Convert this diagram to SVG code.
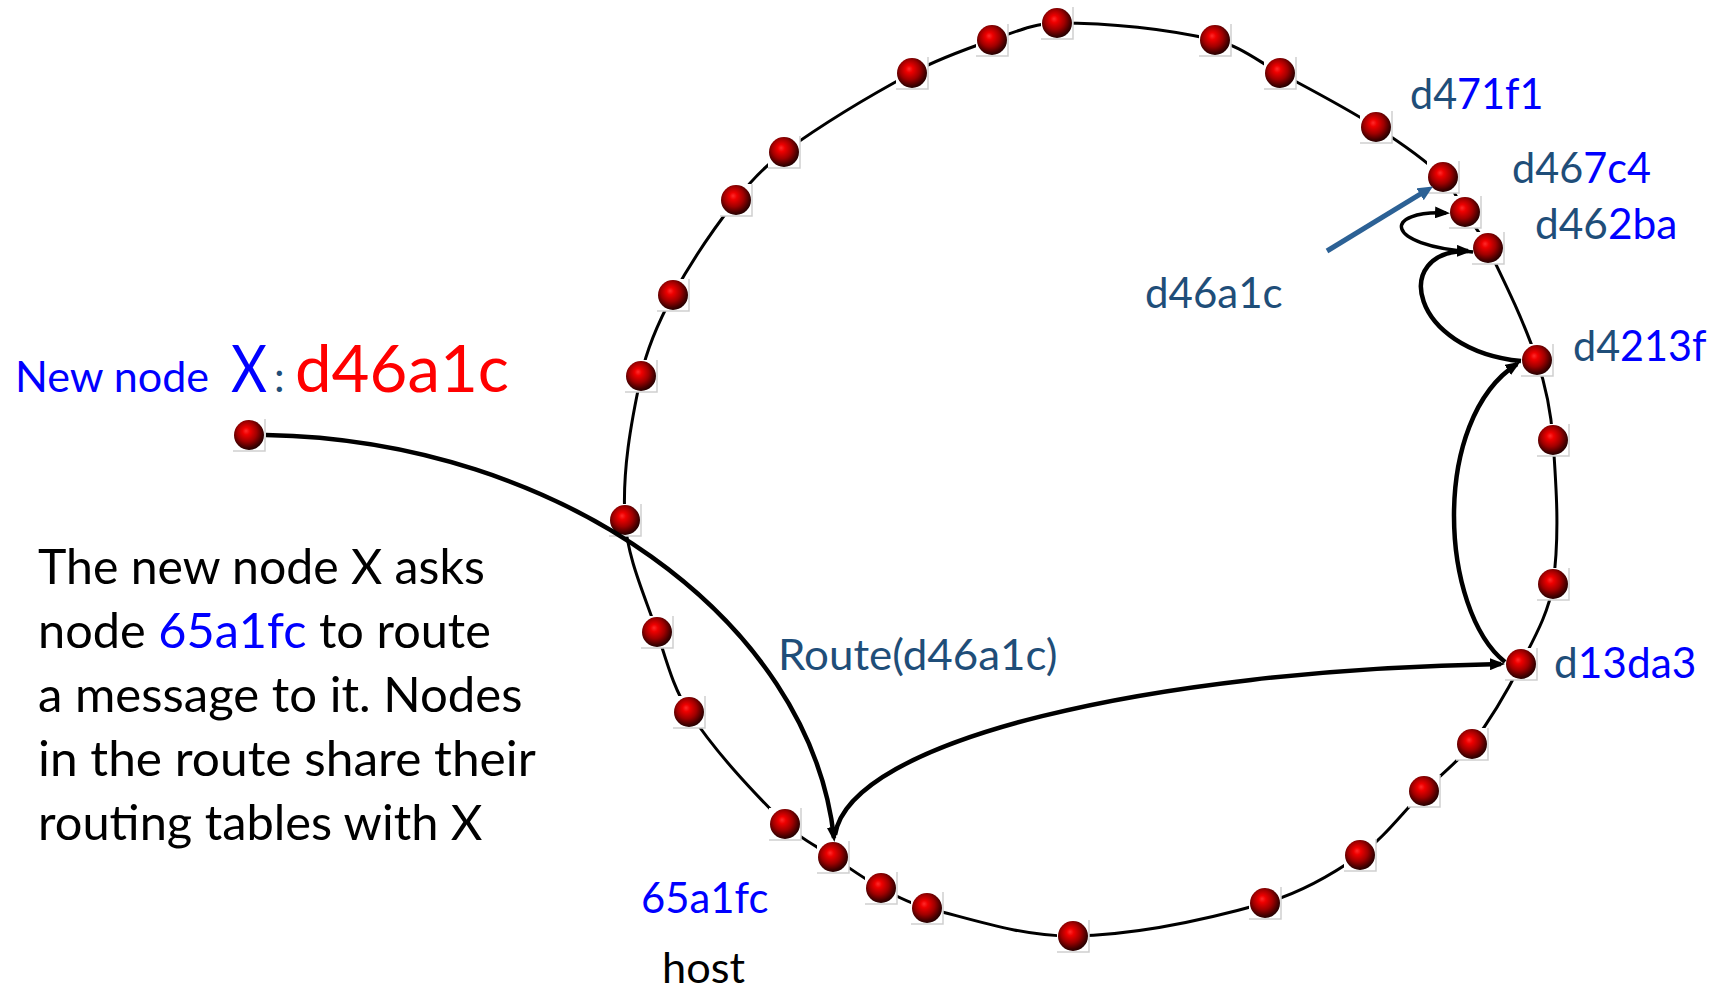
<svg xmlns="http://www.w3.org/2000/svg" xmlns:xlink="http://www.w3.org/1999/xlink" width="1723" height="990" viewBox="0 0 1723 990">
  <style>
    .ring { fill: none; stroke: #000; stroke-width: 3; }
    .hop { fill: none; stroke: #000; stroke-width: 4.5; marker-end: url(#arrow); }
    .hop-thin { fill: none; stroke: #000; stroke-width: 3.5; marker-end: url(#arrow); }
    .pointer { fill: none; stroke: #2c6195; stroke-width: 5; marker-end: url(#arrow-blue); }
    text { font-family: Lato, "Open Sans", "Liberation Sans", sans-serif; }
    .lbl { font-size: 42.5px; }
    .body { font-size: 48px; fill: #000; }
    .dk { fill: #1f4e79; }
    .bl { fill: #0000ff; }
    .red { fill: #ff0000; }
  </style>
  <defs>
    <radialGradient id="sphere" cx="0.45" cy="0.42" r="0.6" fx="0.4" fy="0.36">
      <stop offset="0" stop-color="#ff2a2a"/>
      <stop offset="0.2" stop-color="#ee0000"/>
      <stop offset="0.55" stop-color="#a00000"/>
      <stop offset="0.85" stop-color="#420000"/>
      <stop offset="1" stop-color="#1e0000"/>
    </radialGradient>
    <!-- one ball sprite: white tile with a soft grey edge, red sphere on top -->
    <g id="ball">
      <rect x="-16" y="-16" width="32" height="32" fill="#fff"/>
      <path d="M-16,16 H16 V-16" fill="none" stroke="#cfcfcf" stroke-width="1.5"/>
      <circle r="15" fill="url(#sphere)"/>
    </g>
    <marker id="arrow" markerUnits="userSpaceOnUse" viewBox="0 0 15 12" refX="11" refY="6" markerWidth="15" markerHeight="12" orient="auto">
      <path d="M0,0 L15,6 L0,12 z" fill="#000"/>
    </marker>
    <marker id="arrow-blue" markerUnits="userSpaceOnUse" viewBox="0 0 15 14" refX="4" refY="7" markerWidth="15" markerHeight="14" orient="auto">
      <path d="M0,0 L15,7 L0,14 z" fill="#2c6195"/>
    </marker>
  </defs>

  <!-- the identifier ring -->
  <g id="ring">
    <path class="ring" d="M1057,23 C1110,23 1163.3,28.4 1215,40 C1238.7,45.3 1258.6,61.5 1280,73 C1312.3,90.4 1345.1,107.3 1376,127 C1399.5,142 1422.8,157.7 1443,177 C1453,186.5 1457.6,200.4 1465,212 C1472.6,224 1481.8,235.2 1488,248 C1505.8,284.6 1523.9,321.5 1537,360 C1545.7,385.8 1551.1,412.9 1553,440 C1556.4,487.9 1559.8,536.5 1553,584 C1549,612.4 1534,638.4 1521,664 C1506.9,691.9 1491,719.1 1472,744 C1458.4,761.8 1439.9,775.2 1424,791 C1402.6,812.3 1384.7,837.6 1360,855 C1331,875.4 1299.2,893.3 1265,903 C1202.6,920.7 1137.9,935 1073,936 C1023.4,936.7 975.1,920.1 927,908 C910.8,903.9 895.7,896 881,888 C864.3,878.9 848.8,867.5 833,857 C816.9,846.2 798.7,837.8 785,824 C750.3,789.1 716.3,752.9 689,712 C673.1,688.1 666.1,659.2 657,632 C644.7,595.2 627.4,558.7 625,520 C622,471.8 630.9,423.2 641,376 C647.1,347.6 659.2,320.5 673,295 C691.1,261.6 712.7,230 736,200 C749.9,182.1 765.7,165.2 784,152 C824.6,122.7 867.9,96.7 912,73 C937.4,59.3 964.8,49.4 992,40 C1013.2,32.7 1034.6,23 1057,23 Z"/>
  </g>

  <!-- ring members -->
  <g id="nodes">
    <g id="n-00"><use xlink:href="#ball" x="1057" y="23"/></g>
    <g id="n-01"><use xlink:href="#ball" x="1215" y="40"/></g>
    <g id="n-02"><use xlink:href="#ball" x="1280" y="73"/></g>
    <g id="n-d471f1"><use xlink:href="#ball" x="1376" y="127"/></g>
    <g id="n-04"><use xlink:href="#ball" x="1443" y="177"/></g>
    <g id="n-d467c4"><use xlink:href="#ball" x="1465" y="212"/></g>
    <g id="n-d462ba"><use xlink:href="#ball" x="1488" y="248"/></g>
    <g id="n-d4213f"><use xlink:href="#ball" x="1537" y="360"/></g>
    <g id="n-08"><use xlink:href="#ball" x="1553" y="440"/></g>
    <g id="n-09"><use xlink:href="#ball" x="1553" y="584"/></g>
    <g id="n-d13da3"><use xlink:href="#ball" x="1521" y="664"/></g>
    <g id="n-11"><use xlink:href="#ball" x="1472" y="744"/></g>
    <g id="n-12"><use xlink:href="#ball" x="1424" y="791"/></g>
    <g id="n-13"><use xlink:href="#ball" x="1360" y="855"/></g>
    <g id="n-14"><use xlink:href="#ball" x="1265" y="903"/></g>
    <g id="n-15"><use xlink:href="#ball" x="1073" y="936"/></g>
    <g id="n-16"><use xlink:href="#ball" x="927" y="908"/></g>
    <g id="n-17"><use xlink:href="#ball" x="881" y="888"/></g>
    <g id="n-65a1fc"><use xlink:href="#ball" x="833" y="857"/></g>
    <g id="n-19"><use xlink:href="#ball" x="785" y="824"/></g>
    <g id="n-20"><use xlink:href="#ball" x="689" y="712"/></g>
    <g id="n-21"><use xlink:href="#ball" x="657" y="632"/></g>
    <g id="n-22"><use xlink:href="#ball" x="625" y="520"/></g>
    <g id="n-23"><use xlink:href="#ball" x="641" y="376"/></g>
    <g id="n-24"><use xlink:href="#ball" x="673" y="295"/></g>
    <g id="n-25"><use xlink:href="#ball" x="736" y="200"/></g>
    <g id="n-26"><use xlink:href="#ball" x="784" y="152"/></g>
    <g id="n-27"><use xlink:href="#ball" x="912" y="73"/></g>
    <g id="n-28"><use xlink:href="#ball" x="992" y="40"/></g>
    <g id="n-x"><use xlink:href="#ball" x="249" y="435"/></g>
  </g>

  <!-- routing hops -->
  <g id="connectors">
    <path id="c-x-host" class="hop" d="M266,435 C560,440 810,620 834,838"/>
    <path id="c-host-d13da3" class="hop" d="M835,835 C850,740 1150,670 1501,664"/>
    <path id="c-d13da3-d4213f" class="hop" d="M1505,662 C1440,610 1430,420 1517,364"/>
    <path id="c-d4213f-d462ba" class="hop" d="M1521,361 C1410,350 1390,250 1468,251"/>
    <path id="c-d462ba-d467c4" class="hop-thin" d="M1473,252 C1380,245 1385,210 1446,213"/>
    <path id="c-pointer" class="pointer" d="M1327,251 L1423.5,192.2"/>
  </g>

  <!-- headline for the joining node -->
  <g id="title">
    <text class="bl" x="15" y="392" font-size="42.5" textLength="194" lengthAdjust="spacingAndGlyphs">New node</text>
    <text class="bl" x="231" y="392" font-size="66" textLength="36" lengthAdjust="spacingAndGlyphs">X</text>
    <text class="dk" x="274" y="392" font-size="42.5">:</text>
    <text class="red" x="295" y="392" font-size="66" textLength="214" lengthAdjust="spacingAndGlyphs">d46a1c</text>
  </g>

  <!-- node identifiers -->
  <g id="labels">
    <text class="lbl" x="1410" y="109" textLength="133.5" lengthAdjust="spacingAndGlyphs"><tspan class="dk">d4</tspan><tspan class="bl">71f1</tspan></text>
    <text class="lbl" x="1512" y="183" textLength="139" lengthAdjust="spacingAndGlyphs"><tspan class="dk">d46</tspan><tspan class="bl">7c4</tspan></text>
    <text class="lbl" x="1535" y="239" textLength="142.4" lengthAdjust="spacingAndGlyphs"><tspan class="dk">d46</tspan><tspan class="bl">2ba</tspan></text>
    <text class="lbl" x="1573" y="361" textLength="133.5" lengthAdjust="spacingAndGlyphs"><tspan class="dk">d4</tspan><tspan class="bl">213f</tspan></text>
    <text class="lbl" x="1554" y="678" textLength="142.4" lengthAdjust="spacingAndGlyphs"><tspan class="dk">d</tspan><tspan class="bl">13da3</tspan></text>
    <text class="lbl dk" x="1145" y="308" textLength="137.7" lengthAdjust="spacingAndGlyphs">d46a1c</text>
    <text class="lbl dk" x="778" y="670" textLength="279.4" lengthAdjust="spacingAndGlyphs">Route(d46a1c)</text>
    <text class="lbl bl" x="641" y="913" textLength="127.4" lengthAdjust="spacingAndGlyphs">65a1fc</text>
    <text class="lbl" x="662" y="983" fill="#000" textLength="83" lengthAdjust="spacingAndGlyphs">host</text>
  </g>

  <!-- explanatory paragraph -->
  <g id="caption" class="body">
    <text class="body" x="38" y="584" textLength="446.8" lengthAdjust="spacingAndGlyphs">The new node X asks</text>
    <text class="body" x="38" y="648" textLength="452.9" lengthAdjust="spacingAndGlyphs">node <tspan class="bl">65a1fc</tspan> to route</text>
    <text class="body" x="38" y="712" textLength="484.4" lengthAdjust="spacingAndGlyphs">a message to it. Nodes</text>
    <text class="body" x="38" y="776" textLength="497.8" lengthAdjust="spacingAndGlyphs">in the route share their</text>
    <text class="body" x="38" y="840" textLength="444.5" lengthAdjust="spacingAndGlyphs">routing tables with X</text>
  </g>
</svg>
